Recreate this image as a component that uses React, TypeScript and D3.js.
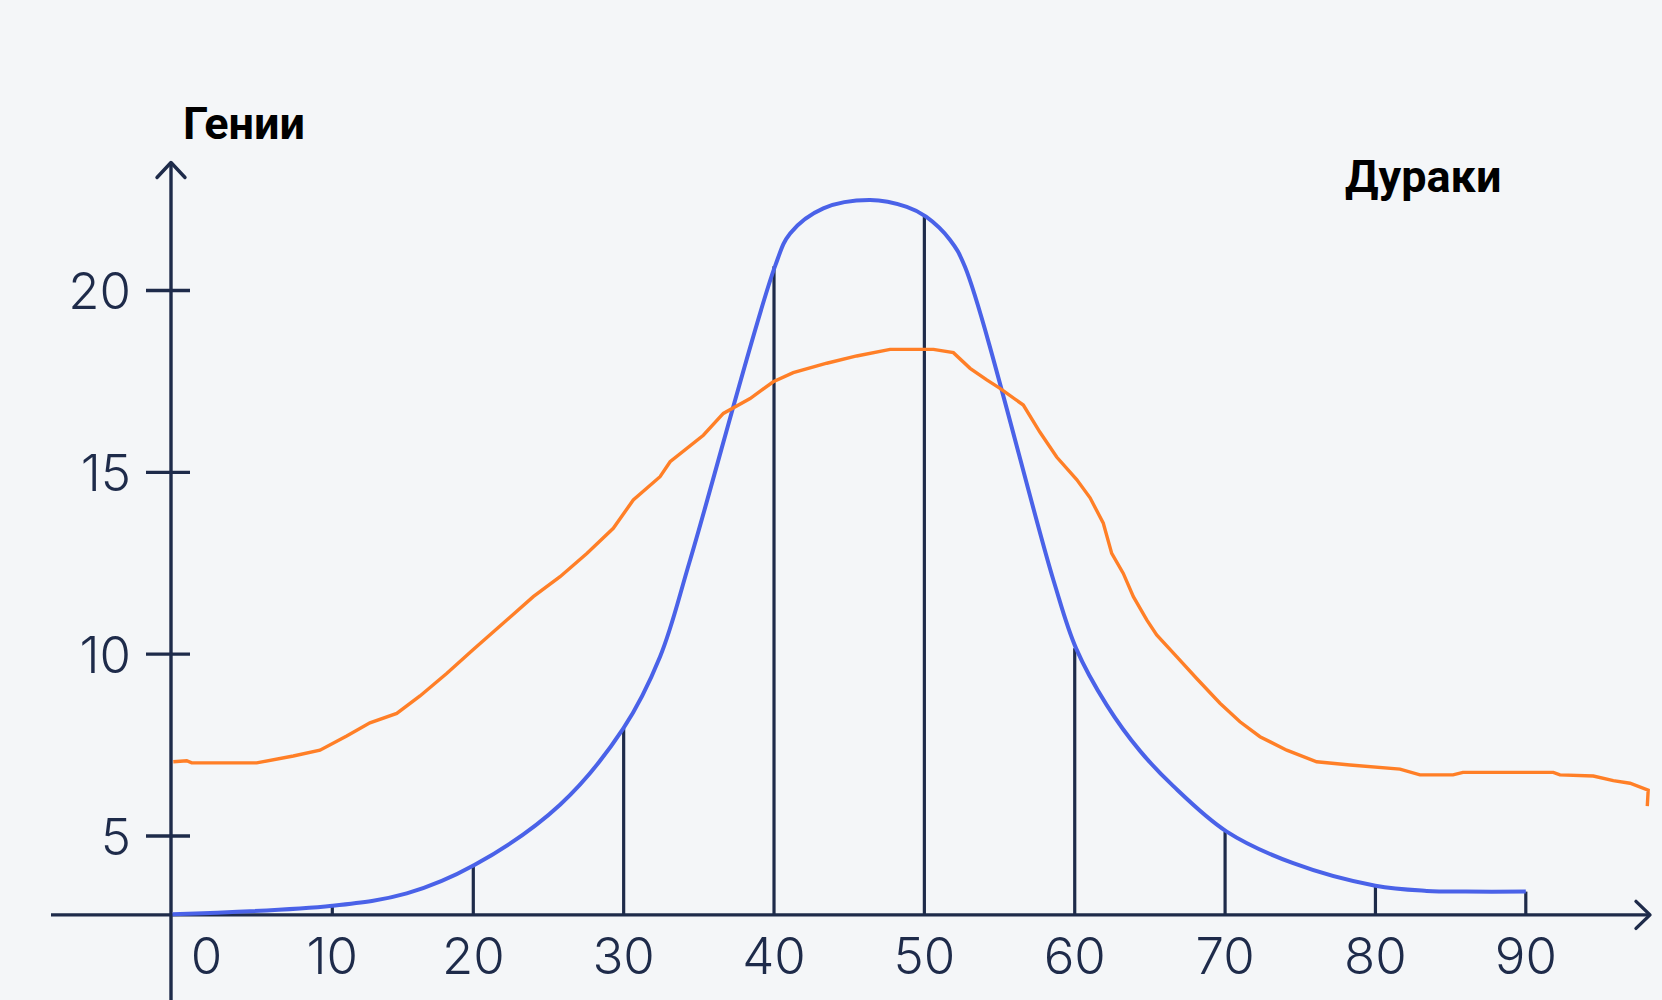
import React, { useEffect } from "react";
import * as d3 from "d3";

// ---- data ----
const xTickValues = [0, 10, 20, 30, 40, 50, 60, 70, 80, 90];
const yTickValues = [5, 10, 15, 20];
const dropX = [10, 20, 30, 40, 50, 60, 70, 80, 90];
const dropTop = [3.08, 4.2, 7.96, 20.67, 22.03, 10.16, 5.12, 3.63, 3.47];
const xAxisValue = 2.83; // the horizontal axis crosses the y scale here
const titleLeft = "Гении";
const titleRight = "Дураки";

const blueSeries: [number, number][] = [
  [0, 2.85], [10.0, 3.08], [15.28, 3.42], [20.07, 4.2], [25.77, 5.86],
  [29.98, 7.96], [32.42, 9.93], [34.42, 12.59], [40.07, 20.67],
  [41.07, 21.57], [43.28, 22.26], [46.39, 22.49], [48.83, 22.3],
  [50.11, 22.03], [51.71, 21.39], [52.7, 20.65], [58.58, 12.04],
  [60.09, 10.16], [62.13, 8.6], [64.34, 7.34], [66.56, 6.37],
  [70.11, 5.12], [74.53, 4.25], [80.0, 3.63],
  [83.41, 3.49], [86.0, 3.47], [90.0, 3.47],
];

const orangeSeries: [number, number][] = [
  [0.05, 7.04], [0.89, 7.07], [1.2, 7.01], [5.27, 7.01], [7.56, 7.2],
  [9.23, 7.36], [11.02, 7.75], [12.67, 8.11], [14.57, 8.37], [16.22, 8.85],
  [18.11, 9.47], [20.0, 10.13], [22.23, 10.94], [23.99, 11.58], [25.77, 12.13],
  [27.55, 12.77], [29.31, 13.46], [30.64, 14.24], [32.42, 14.88], [33.09, 15.29],
  [35.3, 16.02], [36.63, 16.62], [38.41, 17.03], [39.95, 17.49], [41.28, 17.74],
  [43.51, 18.0], [45.5, 18.2], [47.72, 18.38], [50.6, 18.38], [51.93, 18.29],
  [53.04, 17.86], [54.15, 17.54], [55.03, 17.31], [56.58, 16.85], [57.69, 16.1],
  [58.8, 15.42], [60.13, 14.8], [61.02, 14.3], [61.9, 13.6], [62.46, 12.77],
  [63.23, 12.22], [63.9, 11.58], [64.79, 10.94], [65.45, 10.53], [66.78, 9.93],
  [68.11, 9.33], [69.66, 8.65], [70.99, 8.14], [72.32, 7.73], [74.1, 7.36],
  [76.09, 7.04], [78.31, 6.95], [81.63, 6.84], [82.96, 6.68], [85.16, 6.68],
  [85.82, 6.75], [91.83, 6.75], [92.27, 6.68], [94.49, 6.65], [95.82, 6.52],
  [96.93, 6.45], [98.14, 6.26], [98.08, 5.82],
];

// ---- styles ----
const BG = "#f4f6f8";
const NAVY = "#1e2b4a";
const BLUE = "#4a62e8";
const ORANGE = "#ff7f27";
const NUM_FONT = "Inter, 'Noto Sans', sans-serif";
const TITLE_FONT = "Roboto, 'Open Sans', sans-serif";

export default function App() {
  useEffect(() => {
    document.body.style.margin = "0";
    document.body.style.background = BG;
  }, []);

  const W = 1662;
  const H = 1000;
  // the hand-drawn axis is slightly uneven between 0 and 20
  const x = d3
    .scaleLinear()
    .domain([0, 10, 20, 90])
    .range([172.5, 332.3, 473.3, 1525.8]);
  const y = d3.scaleLinear().domain([0, 20]).range([1017.8, 290.5]);

  const blueLine = d3
    .line<[number, number]>()
    .x((d) => x(d[0]))
    .y((d) => y(d[1]))
    .curve(d3.curveCatmullRom.alpha(0.5));
  const orangeLine = d3
    .line<[number, number]>()
    .x((d) => x(d[0]))
    .y((d) => y(d[1]))
    .curve(d3.curveLinear);

  const axisY = y(xAxisValue);
  const axisX = x(0) - 1.5;
  const yTop = 162.5;
  const xLeft = 51;
  const xRight = 1650;

  return (
    <svg width={W} height={H} viewBox={`0 0 ${W} ${H}`} style={{ display: "block" }}>
      <rect x={0} y={0} width={W} height={H} fill={BG} />

      {/* x axis */}
      <line x1={xLeft} y1={axisY} x2={xRight} y2={axisY} stroke={NAVY} strokeWidth={3.4} />
      <polyline
        points={`${xRight - 14},${axisY - 13.5} ${xRight},${axisY} ${xRight - 14},${axisY + 13.5}`}
        fill="none"
        stroke={NAVY}
        strokeWidth={3.4}
        strokeLinecap="round"
        strokeLinejoin="round"
      />

      {/* y axis */}
      <line x1={axisX} y1={yTop} x2={axisX} y2={H} stroke={NAVY} strokeWidth={3.4} />
      <polyline
        points={`${axisX - 14},${yTop + 15} ${axisX},${yTop} ${axisX + 14},${yTop + 15}`}
        fill="none"
        stroke={NAVY}
        strokeWidth={3.4}
        strokeLinecap="round"
        strokeLinejoin="round"
      />

      {/* y ticks and labels */}
      {yTickValues.map((v) => (
        <g key={`yt${v}`}>
          <line x1={146} y1={y(v)} x2={190} y2={y(v)} stroke={NAVY} strokeWidth={3.4} />
          <text
            x={131}
            y={y(v) + 18.6}
            textAnchor="end"
            fontFamily={NUM_FONT}
            fontWeight={300}
            fontSize={51}
            fill={NAVY}
          >
            {v}
          </text>
        </g>
      ))}

      {/* x labels */}
      {xTickValues.map((v) => (
        <text
          key={`xt${v}`}
          x={v === 0 ? x(0) + 34 : x(v)}
          y={974}
          textAnchor="middle"
          fontFamily={NUM_FONT}
          fontWeight={300}
          fontSize={51}
          fill={NAVY}
        >
          {v}
        </text>
      ))}

      {/* drop lines */}
      {dropX.map((v, i) => (
        <line
          key={`d${v}`}
          x1={x(v)}
          y1={axisY}
          x2={x(v)}
          y2={y(dropTop[i])}
          stroke={NAVY}
          strokeWidth={3.2}
        />
      ))}

      {/* blue curve */}
      <path d={blueLine(blueSeries) || ""} fill="none" stroke={BLUE} strokeWidth={4} />

      {/* orange hand-drawn line */}
      <path
        d={orangeLine(orangeSeries) || ""}
        fill="none"
        stroke={ORANGE}
        strokeWidth={3.4}
        strokeLinejoin="miter"
      />

      {/* titles */}
      <text x={183} y={139.3} fontFamily={TITLE_FONT} fontWeight={700} fontSize={45} fill="#000">
        {titleLeft}
      </text>
      <text x={1345} y={191.7} fontFamily={TITLE_FONT} fontWeight={700} fontSize={45} fill="#000">
        {titleRight}
      </text>
    </svg>
  );
}
